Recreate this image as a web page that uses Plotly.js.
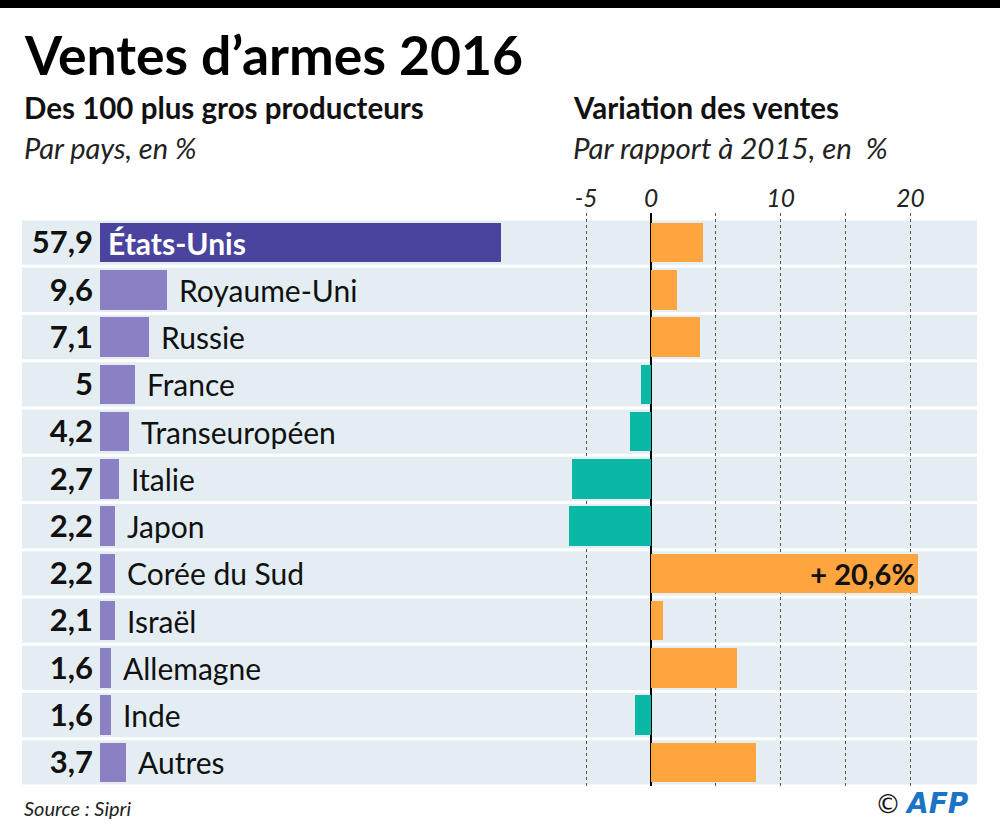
<!DOCTYPE html>
<html><head><meta charset="utf-8">
<script src="https://cdn.plot.ly/plotly-3.0.1.min.js"></script>
<style>html,body{margin:0;padding:0;background:#fff}</style>
</head><body>
<div id="chart" style="width:1000px;height:839px"></div>
<script>
const countries = ['États-Unis','Royaume-Uni','Russie','France','Transeuropéen','Italie','Japon','Corée du Sud','Israël','Allemagne','Inde','Autres'];
const shareLabels = ['57,9','9,6','7,1','5','4,2','2,7','2,2','2,2','2,1','1,6','1,6','3,7'];
const shares = [57.9,9.6,7.1,5,4.2,2.7,2.2,2.2,2.1,1.6,1.6,3.7];
const changes = [4.0,2.0,3.8,-0.8,-1.6,-6.1,-6.3,20.6,0.9,6.6,-1.2,8.1];
const changeTickVals = [-5,0,5,10,15,20];
const changeTickText = ['-5','0','','10','','20'];

const FONT = 'Lato, "Noto Sans", sans-serif';
const H = 839;
const py = v => 1 - v / H;

const shareColors = shares.map((v, i) => i === 0 ? '#4a449f' : '#8a80c3');
const changeColors = changes.map(v => v < 0 ? '#0bb8a6' : '#ffa53f');
const changeText = changes.map(v => v > 15 ? '<b>+ ' + String(v).replace('.', ',') + '%</b>' : '');

const traces = [
  {
    type: 'bar', orientation: 'h', x: shares, y: countries,
    xaxis: 'x', yaxis: 'y', width: 0.84,
    marker: {color: shareColors, line: {width: 0}},
    hoverinfo: 'skip'
  },
  {
    type: 'bar', orientation: 'h', x: changes, y: countries,
    xaxis: 'x2', yaxis: 'y', width: 0.84,
    marker: {color: changeColors, line: {width: 0}},
    text: changeText, textposition: 'inside', insidetextanchor: 'end',
    constraintext: 'none', cliponaxis: false,
    textfont: {family: FONT, size: 29, color: '#111'},
    hoverinfo: 'skip'
  }
];

const shapes = [
  {type: 'rect', xref: 'paper', yref: 'paper', x0: 0, x1: 1, y0: py(8), y1: 1,
   fillcolor: '#000', line: {width: 0}}
];
countries.forEach((c, i) => {
  shapes.push({type: 'rect', xref: 'paper', yref: 'y', x0: 0.022, x1: 0.977,
    y0: i - 0.5 + 0.03, y1: i + 0.5 - 0.03, fillcolor: '#e4eef2',
    line: {width: 0}, layer: 'below'});
});

const annotations = [
  {text: '<b>Ventes d’armes 2016</b>', x: 0.022, y: py(54), font: {size: 53.5, color: '#000'}},
  {text: '<b>Des 100 plus gros producteurs</b>', x: 0.022, y: py(107), font: {size: 29.5, color: '#111'}},
  {text: '<i>Par pays, en %</i>', x: 0.022, y: py(148), font: {size: 29, color: '#222'}},
  {text: '<b>Variation des ventes</b>', x: 0.571, y: py(107), font: {size: 29.5, color: '#111'}},
  {text: '<i>Par rapport à 2015, en  %</i>', x: 0.571, y: py(148), font: {size: 29.5, color: '#222'}},
  {text: '<i>Source : Sipri</i>', x: 0.022, y: py(808), font: {size: 20, color: '#222'}},
  {text: '©', x: 0.873, y: py(804), font: {size: 26, color: '#111', family: '"DejaVu Sans", sans-serif'}},
  {text: '<b><i>AFP</i></b>', x: 0.903, y: py(803), font: {size: 28, color: '#1b74c6', family: '"DejaVu Sans", sans-serif'}}
].map(a => Object.assign({xref: 'paper', yref: 'paper', xanchor: 'left', yanchor: 'middle', showarrow: false}, a,
  {font: Object.assign({family: FONT}, a.font)}));

countries.forEach((c, i) => {
  if (i === 0) {
    annotations.push({xref: 'x', yref: 'y', x: 0, y: c, xanchor: 'left', yanchor: 'middle',
      xshift: 6, showarrow: false, text: '<b>' + c + '</b>',
      font: {family: FONT, size: 30, color: '#fff'}});
  } else {
    annotations.push({xref: 'x', yref: 'y', x: shares[i], y: c, xanchor: 'left', yanchor: 'middle',
      xshift: 10, showarrow: false, text: c,
      font: {family: FONT, size: 30, color: '#111'}});
  }
});

const layout = {
  width: 1000, height: 839,
  margin: {l: 0, r: 0, t: 0, b: 0},
  paper_bgcolor: '#fff', plot_bgcolor: 'rgba(0,0,0,0)',
  showlegend: false, bargap: 0,
  font: {family: FONT},
  xaxis: {domain: [0.1, 0.54], range: [0, 63.5], anchor: 'y', visible: false, fixedrange: true},
  xaxis2: {domain: [0.56, 0.977], range: [-7.016, 25.135], anchor: 'y', side: 'top',
    tickvals: changeTickVals, ticktext: changeTickText, ticks: '',
    tickfont: {family: FONT, size: 24.5, color: '#222', style: 'italic'},
    ticklabelstandoff: 0,
    showgrid: true, gridcolor: '#555', griddash: 'dot', gridwidth: 1,
    zeroline: true, zerolinecolor: '#000', zerolinewidth: 2, showline: false, fixedrange: true},
  yaxis: {domain: [py(786), py(213)], range: [11.5, -0.627], anchor: 'x',
    type: 'category', tickvals: countries, ticktext: shareLabels, ticks: '',
    tickfont: {family: FONT, size: 31, color: '#111', weight: 'bold'},
    ticklabelstandoff: 6,
    showgrid: false, zeroline: false, showline: false, fixedrange: true},
  shapes: shapes,
  annotations: annotations
};

Plotly.newPlot('chart', traces, layout, {displayModeBar: false, staticPlot: true});
</script>
</body></html>
